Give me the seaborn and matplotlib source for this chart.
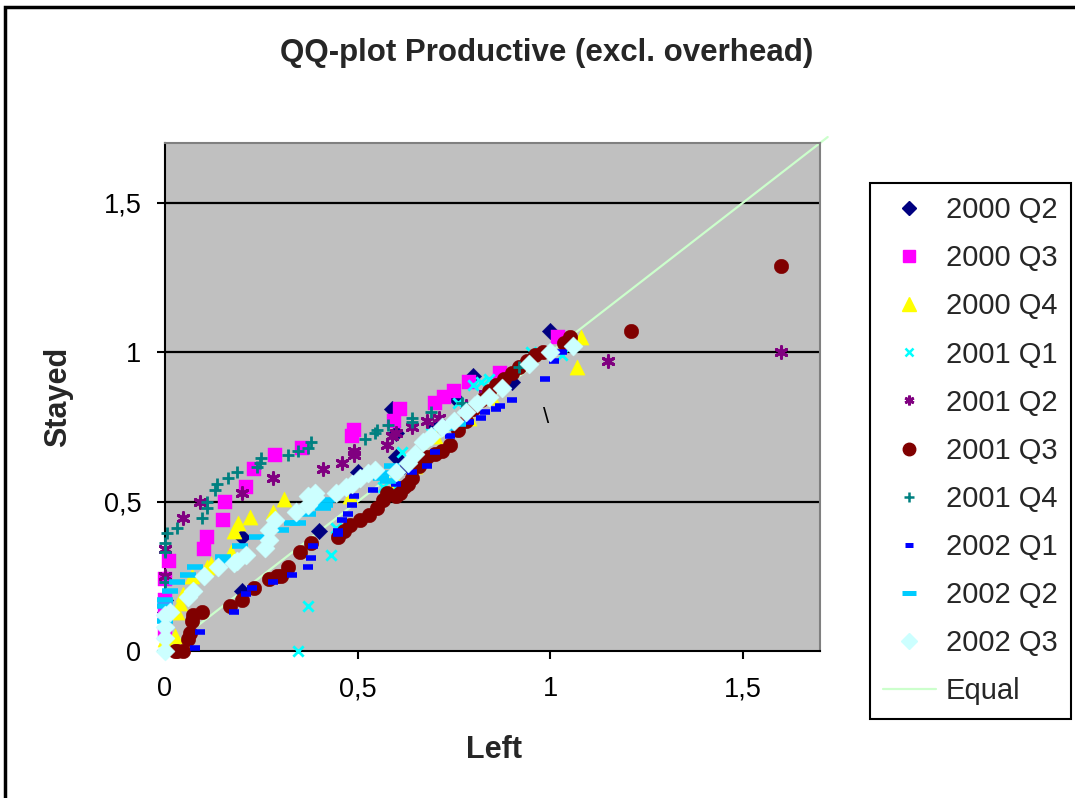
import matplotlib
matplotlib.use("Agg")
import matplotlib.pyplot as plt
import matplotlib.patches as mpatches
from matplotlib.lines import Line2D
from matplotlib.ticker import FuncFormatter
import seaborn as sns
import pandas as pd

sns.set_style("white")
plt.rcParams['font.family'] = ['Liberation Sans', 'DejaVu Sans']

# ---------------- data ----------------
q00_2_x = [0, 0, 0.2, 0.2, 0.4, 0.5, 0.59, 0.6, 0.6, 0.62, 0.7, 0.75, 0.8, 0.9, 1.0]
q00_2_y = [0.13, 0.17, 0.2, 0.38, 0.4, 0.6, 0.81, 0.73, 0.65, 0.62, 0.75, 0.85, 0.92, 0.9, 1.07]

q00_3_x = [0, 0, 0, 0, 0.01, 0.1, 0.11, 0.15, 0.155, 0.21, 0.23, 0.285, 0.355, 0.485, 0.49,
           0.595, 0.61, 0.70, 0.725, 0.75, 0.79, 0.87, 1.02]
q00_3_y = [0.06, 0.12, 0.17, 0.24, 0.30, 0.34, 0.38, 0.44, 0.50, 0.55, 0.61, 0.655, 0.68, 0.72, 0.74,
           0.77, 0.81, 0.83, 0.85, 0.87, 0.90, 0.93, 1.05]

q00_4_x = [0, 0.026, 0.03, 0.04, 0.047, 0.07, 0.11, 0.12, 0.17, 0.18, 0.19, 0.22, 0.28, 0.31,
           0.48, 0.6, 0.65, 0.7, 0.79, 0.85, 1.07, 1.08]
q00_4_y = [0.04, 0.05, 0.13, 0.16, 0.19, 0.25, 0.28, 0.29, 0.33, 0.40, 0.43, 0.45, 0.465, 0.51,
           0.52, 0.57, 0.62, 0.72, 0.78, 0.85, 0.95, 1.05]

q01_1_x = [0.345, 0.37, 0.43, 0.445, 0.565, 0.595, 0.60, 0.615, 0.69, 0.76, 0.80, 0.82, 0.84, 0.95, 1.03]
q01_1_y = [0.0, 0.15, 0.32, 0.41, 0.55, 0.58, 0.55, 0.665, 0.73, 0.83, 0.89, 0.90, 0.91, 1.0, 0.99]

q01_2_x = [0, 0, 0.047, 0.09, 0.20, 0.28, 0.41, 0.46, 0.49, 0.49, 0.575, 0.59, 0.60, 0.64, 0.68,
           0.71, 0.78, 0.83, 1.15, 1.60]
q01_2_y = [0.25, 0.34, 0.445, 0.50, 0.53, 0.58, 0.61, 0.63, 0.655, 0.67, 0.69, 0.72, 0.73, 0.75, 0.77,
           0.78, 0.82, 0.86, 0.97, 1.0]

q01_3_x = [0.026, 0.03, 0.047, 0.06, 0.065, 0.07, 0.073, 0.096, 0.168, 0.20, 0.23, 0.27, 0.29, 0.30,
           0.32, 0.35, 0.38, 0.45, 0.465, 0.48, 0.505, 0.53, 0.55, 0.565, 0.575, 0.60, 0.61, 0.62,
           0.63, 0.64, 0.66, 0.68, 0.70, 0.72, 0.74, 0.76, 0.78, 0.80, 0.82, 0.84, 0.86, 0.88, 0.90,
           0.92, 0.94, 0.96, 0.98, 1.035, 1.05, 1.21, 1.60]
q01_3_y = [0.0, 0.0, 0.0, 0.04, 0.06, 0.10, 0.12, 0.13, 0.15, 0.17, 0.21, 0.24, 0.25, 0.25,
           0.28, 0.33, 0.36, 0.38, 0.40, 0.42, 0.44, 0.455, 0.48, 0.505, 0.53, 0.52, 0.53, 0.55,
           0.56, 0.58, 0.62, 0.65, 0.66, 0.67, 0.69, 0.74, 0.77, 0.81, 0.84, 0.87, 0.89, 0.91, 0.93,
           0.95, 0.97, 0.99, 1.0, 1.03, 1.05, 1.07, 1.29]

q01_4_x = [0, 0, 0, 0.005, 0.03, 0.096, 0.11, 0.11, 0.13, 0.135, 0.163, 0.186, 0.24, 0.246, 0.25,
           0.32, 0.345, 0.37, 0.38, 0.52, 0.545, 0.55, 0.58, 0.64, 0.64, 0.69, 0.77, 0.92]
q01_4_y = [0.23, 0.33, 0.36, 0.395, 0.41, 0.445, 0.48, 0.50, 0.54, 0.56, 0.58, 0.60, 0.615, 0.63, 0.645,
           0.655, 0.67, 0.68, 0.70, 0.71, 0.73, 0.74, 0.755, 0.765, 0.78, 0.80, 0.83, 0.95]

q02_1_x = [0.078, 0.09, 0.18, 0.21, 0.225, 0.28, 0.33, 0.37, 0.38, 0.385, 0.45, 0.45, 0.46, 0.475,
           0.485, 0.49, 0.54, 0.6, 0.64, 0.68, 0.70, 0.74, 0.79, 0.82, 0.83, 0.86, 0.87, 0.90, 0.985,
           1.01, 1.03]
q02_1_y = [0.01, 0.065, 0.13, 0.19, 0.21, 0.23, 0.255, 0.28, 0.31, 0.35, 0.39, 0.40, 0.44, 0.46,
           0.49, 0.52, 0.54, 0.56, 0.6, 0.62, 0.665, 0.72, 0.765, 0.78, 0.80, 0.81, 0.82, 0.84, 0.91,
           0.97, 1.0]

q02_2_x = [0, 0, 0, 0.013, 0.03, 0.06, 0.078, 0.15, 0.155, 0.195, 0.24, 0.30, 0.33, 0.345, 0.37,
           0.41, 0.415, 0.42, 0.56, 0.575, 0.58, 0.59, 0.73, 0.76]
q02_2_y = [0.10, 0.15, 0.17, 0.20, 0.23, 0.255, 0.28, 0.315, 0.30, 0.35, 0.38, 0.405, 0.43, 0.43, 0.46,
           0.48, 0.49, 0.505, 0.58, 0.595, 0.57, 0.62, 0.745, 0.76]

q02_3_x = [0, 0, 0, 0, 0.013, 0.06, 0.073, 0.10, 0.137, 0.18, 0.186, 0.21, 0.26, 0.27, 0.27, 0.285,
           0.34, 0.37, 0.37, 0.39, 0.39, 0.445, 0.47, 0.485, 0.505, 0.526, 0.545, 0.60, 0.63, 0.65,
           0.67, 0.69, 0.72, 0.75, 0.78, 0.81, 0.84, 0.875, 0.945, 1.0, 1.06]
q02_3_y = [0.0, 0.045, 0.08, 0.12, 0.13, 0.18, 0.20, 0.25, 0.28, 0.295, 0.30, 0.32, 0.345, 0.37, 0.405,
           0.44, 0.465, 0.49, 0.52, 0.515, 0.53, 0.53, 0.55, 0.56, 0.58, 0.595, 0.605, 0.60, 0.63, 0.66,
           0.70, 0.72, 0.75, 0.77, 0.80, 0.83, 0.85, 0.88, 0.96, 1.0, 1.02]

equal_x = [0, 1.72]
equal_y = [0, 1.72]

x_ticks = [0, 0.5, 1, 1.5]
y_ticks = [0, 0.5, 1, 1.5]
title = "QQ-plot Productive (excl. overhead)"

# label, x, y, colour, marker, scatter size, line width, filled, legend markersize
series = [
    ("2000 Q2", q00_2_x, q00_2_y, "#000080", "D", 70, 0, True, 7.5),
    ("2000 Q3", q00_3_x, q00_3_y, "#FF00FF", "s", 105, 0, True, 8),
    ("2000 Q4", q00_4_x, q00_4_y, "#FFFF00", "^", 120, 0, True, 9.5),
    ("2001 Q1", q01_1_x, q01_1_y, "#00FFFF", "x", 55, 2.0, False, 6),
    ("2001 Q2", q01_2_x, q01_2_y, "#800080", (6, 2, 0), 70, 2.2, False, 7),
    ("2001 Q3", q01_3_x, q01_3_y, "#800000", "o", 110, 0, True, 9),
    ("2001 Q4", q01_4_x, q01_4_y, "#008080", "+", 65, 2.0, False, 6.5),
    ("2002 Q1", q02_1_x, q02_1_y, "#0000FF", "_", 55, 4.0, False, 6),
    ("2002 Q2", q02_2_x, q02_2_y, "#00CCFF", "_", 130, 4.0, False, 10),
    ("2002 Q3", q02_3_x, q02_3_y, "#CCFFFF", "D", 95, 0, True, 8.5),
]

W, H = 1075, 798
fig = plt.figure(figsize=(W / 100, H / 100), dpi=100)
fig.patch.set_facecolor("white")
ax = fig.add_axes([165 / W, 1 - 651 / H, 655 / W, 508 / H])
ax.set_facecolor("#C0C0C0")

for lab, xs, ys, col, mk, s, lw, filled, lms in series:
    df = pd.DataFrame({"x": xs, "y": ys})
    if filled:
        sns.scatterplot(data=df, x="x", y="y", marker=mk, s=s, color=col,
                        edgecolor=col, linewidth=0.3, ax=ax, zorder=3, clip_on=False)
    else:
        sns.scatterplot(data=df, x="x", y="y", marker=mk, s=s, color=col,
                        linewidth=lw, ax=ax, zorder=3, clip_on=False)

ax.plot(equal_x, equal_y, color="#CCFFCC", lw=1.6, zorder=2.5, clip_on=False)

ax.text(0.99, 0.78, "\\", fontsize=16, ha="center", va="center", color="black", zorder=4)

ax.set_xlim(0, 1.7)
ax.set_ylim(0, 1.7)
ax.set_xticks(x_ticks)
ax.set_yticks(y_ticks)
fmt = FuncFormatter(lambda v, p: (f"{v:g}").replace(".", ","))
ax.xaxis.set_major_formatter(fmt)
ax.yaxis.set_major_formatter(fmt)
ax.tick_params(axis="both", direction="out", length=6, width=1.5, color="black",
               labelsize=19.5, labelcolor="black")
ax.tick_params(axis="x", pad=12)
ax.tick_params(axis="y", pad=11)
ax.xaxis.set_ticks_position("bottom")
ax.yaxis.set_ticks_position("left")
for yv in y_ticks[1:]:
    ax.axhline(yv, color="black", lw=1.6, zorder=1)
ax.grid(False)
for side in ["left", "bottom"]:
    ax.spines[side].set_color("black")
    ax.spines[side].set_linewidth(1.5)
for side in ["top", "right"]:
    ax.spines[side].set_color("#808080")
    ax.spines[side].set_linewidth(1.5)
ax.set_xlabel("")
ax.set_ylabel("")

fig.text(547 / W, 1 - 53 / H, title, ha="center", va="center", fontsize=22.5, fontweight="bold")
fig.text(494 / W, 1 - 750 / H, "Left", ha="center", va="center", fontsize=22, fontweight="bold")
fig.text(58 / W, 1 - 397 / H, "Stayed", ha="center", va="center", fontsize=22,
         fontweight="bold", rotation=90)

# outer chart border
fig.patches.append(mpatches.Rectangle((5 / W, -0.05), 1.2, 1 - 7 / H + 0.05,
                                      transform=fig.transFigure, fill=False,
                                      edgecolor="black", lw=2.5))

handles = []
for lab, xs, ys, col, mk, s, lw, filled, lms in series:
    if filled:
        h = Line2D([], [], linestyle="none", marker=mk, markersize=lms, color=col,
                   markeredgecolor=col)
    else:
        h = Line2D([], [], linestyle="none", marker=mk, markersize=lms, color=col,
                   markeredgewidth=lw * 0.9)
    handles.append((h, lab))
handles.append((Line2D([], [], color="#CCFFCC", lw=1.6), "Equal"))

leg = fig.legend([h for h, _ in handles], [l for _, l in handles],
                 loc="upper left", bbox_to_anchor=(870 / W, 1 - 183 / H),
                 frameon=True, fancybox=False, framealpha=1, edgecolor="black",
                 fontsize=21, labelspacing=0.69, handlelength=1.8, handletextpad=0.35,
                 borderpad=0.45, borderaxespad=0)
leg.get_frame().set_linewidth(1.5)

fig.savefig("out.png", dpi=100)
